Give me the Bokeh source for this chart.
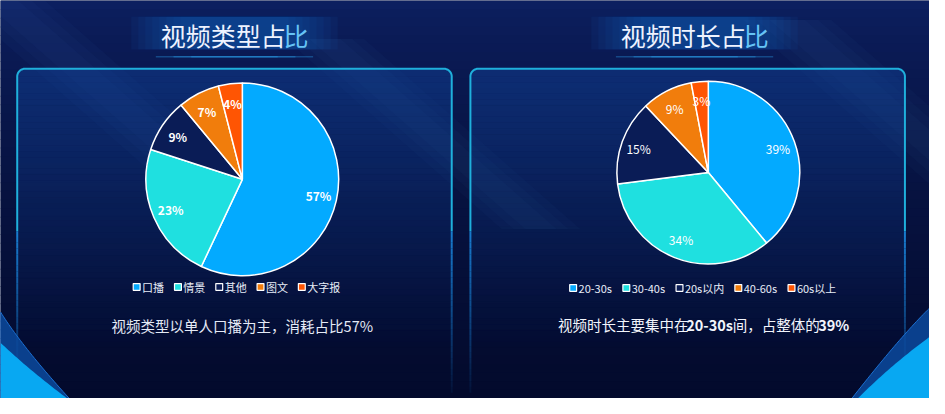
import numpy as np
from bokeh.core.properties import value
from bokeh.embed import file_html
from bokeh.models import ColumnDataSource, Range1d
from bokeh.plotting import figure
from bokeh.resources import INLINE

# ---- chart data -------------------------------------------------------------
TYPE_LABELS = ["口播", "情景", "其他", "图文", "大字报"]
TYPE_VALUES = [57, 23, 9, 7, 4]

DUR_LABELS = ["20-30s", "30-40s", "20s以内", "40-60s", "60s以上"]
DUR_VALUES = [39, 34, 15, 9, 3]

SLICE_COLORS = ["#03aaff", "#1fe0e0", "#0a1c56", "#f17d0c", "#ff5503"]

TITLES = ["视频类型占比", "视频时长占比"]
NOTE_TYPE = "视频类型以单人口播为主，消耗占比57%"
NOTE_DUR = ["视频时长主要集中在", "20-30s", "间，占整体的", "39%"]
NOTE_DUR_BOLD = [False, True, False, True]

FONT = "Noto Sans CJK SC"
W, H = 945, 414


def Y(v):
    # reference pixels are measured from the top, bokeh counts from the bottom
    return H - np.asarray(v, dtype=float)


def hexrgb(c):
    return tuple(int(c[i:i + 2], 16) for i in (1, 3, 5))


def mix(c1, c2, t):
    a, b = hexrgb(c1), hexrgb(c2)
    return "#%02x%02x%02x" % tuple(round(a[i] + (b[i] - a[i]) * t) for i in range(3))


def text_w(s, fs, bold=False):
    w = 0.0
    for ch in s:
        if ord(ch) > 255:
            w += fs
        elif ch == "%":
            w += 0.85 * fs
        elif ch == "-":
            w += 0.36 * fs
        elif ch == "s":
            w += 0.5 * fs
        else:
            w += (0.6 if bold else 0.56) * fs
    return w


# whole reference frame squeezed into the 929x398 plot area
p = figure(
    width=929, height=398,
    x_range=Range1d(0, W), y_range=Range1d(0, H),
    x_axis_type=None, y_axis_type=None,
    toolbar_location=None, output_backend="svg",
    min_border=0, background_fill_color="#071345",
    border_fill_color="#071345",
)
p.outline_line_color = None

# ---- background -------------------------------------------------------------
n = 46
edges = np.linspace(0, H, n + 1)
tt = np.linspace(0, 1, n) ** 0.7
bg = ColumnDataSource(dict(
    top=Y(edges[:-1]), bottom=Y(edges[1:] + 1),
    color=[mix("#0c1f60", "#030a2c", t) for t in tt],
))
p.quad(left=0, right=W, top="top", bottom="bottom",
       fill_color="color", line_color=None, source=bg)

# soft diagonal light beams (layered for blurry edges)
beams = [
    (0, 0, 90, 240, 0.035),
    (330, 40, 80, 220, 0.03),
    (800, 20, 90, 250, 0.03),
]
for bx0, by0, bw, bl, ba in beams:
    for k in (1.0, 0.7, 0.4):
        w = bw * k
        xs = [bx0 - w / 2, bx0 + w / 2, bx0 + w / 2 + bl, bx0 - w / 2 + bl]
        ys = [by0, by0, by0 + bl * 0.9, by0 + bl * 0.9]
        p.patch(xs, Y(ys), fill_color="#5a90ee", fill_alpha=ba, line_color=None)

# ---- panels -----------------------------------------------------------------
PANELS = [(17, 459), (478, 920)]
P_TOP, R = 71, 8


def top_outline(x0, x1, top, r):
    a1 = np.linspace(np.pi, np.pi / 2, 12)
    a2 = np.linspace(np.pi / 2, 0, 12)
    xs = np.concatenate([x0 + r + r * np.cos(a1), x1 - r + r * np.cos(a2)])
    ys = np.concatenate([top + r - r * np.sin(a1), top + r - r * np.sin(a2)])
    return xs, ys


for x0, x1 in PANELS:
    # inner glow fading downwards
    ox, oy = top_outline(x0, x1, P_TOP, R)
    p.patch(ox, Y(oy), fill_color="#1248a2", fill_alpha=0.42, line_color=None)
    e = np.arange(P_TOP + R, 372, 6)
    al = np.linspace(0.42, 0.0, len(e) - 1)
    src = ColumnDataSource(dict(top=Y(e[:-1]), bottom=Y(e[1:]), alpha=al))
    p.quad(left=x0, right=x1, top="top", bottom="bottom", fill_color="#1248a2",
           fill_alpha="alpha", line_color=None, source=src)

    # border: bright rounded top, sides fade out towards the bottom
    bx = np.concatenate([[x0], ox, [x1]])
    by = np.concatenate([[240], oy, [240]])
    p.line(bx, Y(by), line_color="#1fb0dc", line_width=2)
    se = np.arange(240, 414, 6)
    sa = np.linspace(0.9, 0.08, len(se) - 1)
    for sx in (x0, x1):
        seg = ColumnDataSource(dict(y0=Y(se[:-1]), y1=Y(se[1:]), alpha=sa))
        p.segment(x0=sx, y0="y0", x1=sx, y1="y1", line_color="#1a86dc",
                  line_width=2, line_alpha="alpha", source=seg)


# ---- corner decorations -----------------------------------------------------
def qcurve(pa, pc, pb, k=30):
    t = np.linspace(0, 1, k)[:, None]
    pts = (1 - t) ** 2 * np.array(pa) + 2 * (1 - t) * t * np.array(pc) + t ** 2 * np.array(pb)
    return pts[:, 0], pts[:, 1]


def corner(edge_x, outer, inner):
    cx1, cy1 = qcurve(*outer)
    p.patch(np.concatenate([cx1, [edge_x]]), Y(np.concatenate([cy1, [H]])),
            fill_color="#0c4a9e", fill_alpha=0.85, line_color="#1c6fd0", line_width=1)
    cx2, cy2 = qcurve(*inner)
    p.patch(np.concatenate([cx2, [edge_x]]), Y(np.concatenate([cy2, [H]])),
            fill_color="#08a8f2", line_color=None)


corner(0, ((0, 324), (22, 360), (70, 414)), ((0, 356), (30, 385), (68, 414)))
corner(W, ((945, 320), (915, 350), (866, 414)), ((945, 350), (905, 380), (872, 414)))

# ---- titles -----------------------------------------------------------------
TITLE_CX = [238, 706]
TITLE_Y = 36
TFS = 25
for title, cx in zip(TITLES, TITLE_CX):
    for hw in np.linspace(105, 55, 8):
        p.quad(left=cx - hw, right=cx + hw, top=Y(17), bottom=Y(51),
               fill_color="#1b5fbf", fill_alpha=0.09, line_color=None)
    for hw in (80, 62, 44):
        p.segment(x0=cx - hw, y0=Y(58.5), x1=cx + hw, y1=Y(58.5),
                  line_color="#2aa0ec", line_width=1.5, line_alpha=0.35)
    left = cx - len(title) * TFS / 2
    p.text(x=left, y=Y(TITLE_Y), text=[title[:-1]], text_font=value(FONT),
           text_font_size=f"{TFS}px", text_color="#eef3ff",
           text_align="left", text_baseline="middle")
    p.text(x=left + (len(title) - 1) * TFS, y=Y(TITLE_Y), text=[title[-1]],
           text_font=value(FONT), text_font_size=f"{TFS}px", text_color="#66c4f6",
           text_align="left", text_baseline="middle")


# ---- pies -------------------------------------------------------------------
def pie(cx, cy, r, vals, bold):
    v = np.asarray(vals, dtype=float)
    cum = np.concatenate([[0], np.cumsum(v / v.sum())])
    start = np.pi / 2 - 2 * np.pi * cum[:-1]
    end = np.pi / 2 - 2 * np.pi * cum[1:]
    src = ColumnDataSource(dict(start=start, end=end, color=SLICE_COLORS))
    p.wedge(x=cx, y=Y(cy), radius=r, start_angle="start", end_angle="end",
            direction="clock", fill_color="color", line_color="white",
            line_width=1.5, source=src)
    mid = (start + end) / 2
    lab = ColumnDataSource(dict(
        x=cx + 0.81 * r * np.cos(mid), y=Y(cy) + 0.81 * r * np.sin(mid),
        t=[f"{x}%" for x in vals],
    ))
    p.text(x="x", y="y", text="t", source=lab, text_font=value(FONT),
           text_font_size="12px", text_color="white",
           text_font_style="bold" if bold else "normal",
           text_align="center", text_baseline="middle")


pie(246, 186, 98, TYPE_VALUES, True)
pie(720, 179, 93, DUR_VALUES, False)


# ---- legends ----------------------------------------------------------------
def legend(x0, y, labels, fs=11):
    sq, tx = [], []
    x = x0
    for lab in labels:
        sq.append(x + 3.5)
        tx.append(x + 9)
        x += 9 + text_w(lab, fs) + 11
    p.rect(x=sq, y=Y(y), width=7, height=7, fill_color=SLICE_COLORS,
           line_color="white", line_width=1.2)
    p.text(x=tx, y=Y(y), text=labels, text_font=value(FONT),
           text_font_size=f"{fs}px", text_color="#e8eef8",
           text_align="left", text_baseline="middle")


legend(135, 298, TYPE_LABELS)
legend(579, 299, DUR_LABELS)

# ---- notes ------------------------------------------------------------------
NFS = 14.5
p.text(x=246, y=Y(338), text=[NOTE_TYPE], text_font=value(FONT),
       text_font_size=f"{NFS}px", text_color="#e4eaf6",
       text_align="center", text_baseline="middle")

x = 567
for piece, b in zip(NOTE_DUR, NOTE_DUR_BOLD):
    p.text(x=x, y=Y(337), text=[piece], text_font=value(FONT),
           text_font_size=f"{NFS}px", text_color="#f2f5fc",
           text_font_style="bold" if b else "normal",
           text_align="left", text_baseline="middle")
    x += text_w(piece, NFS, b)

open("out.html", "w").write(file_html(p, INLINE))
